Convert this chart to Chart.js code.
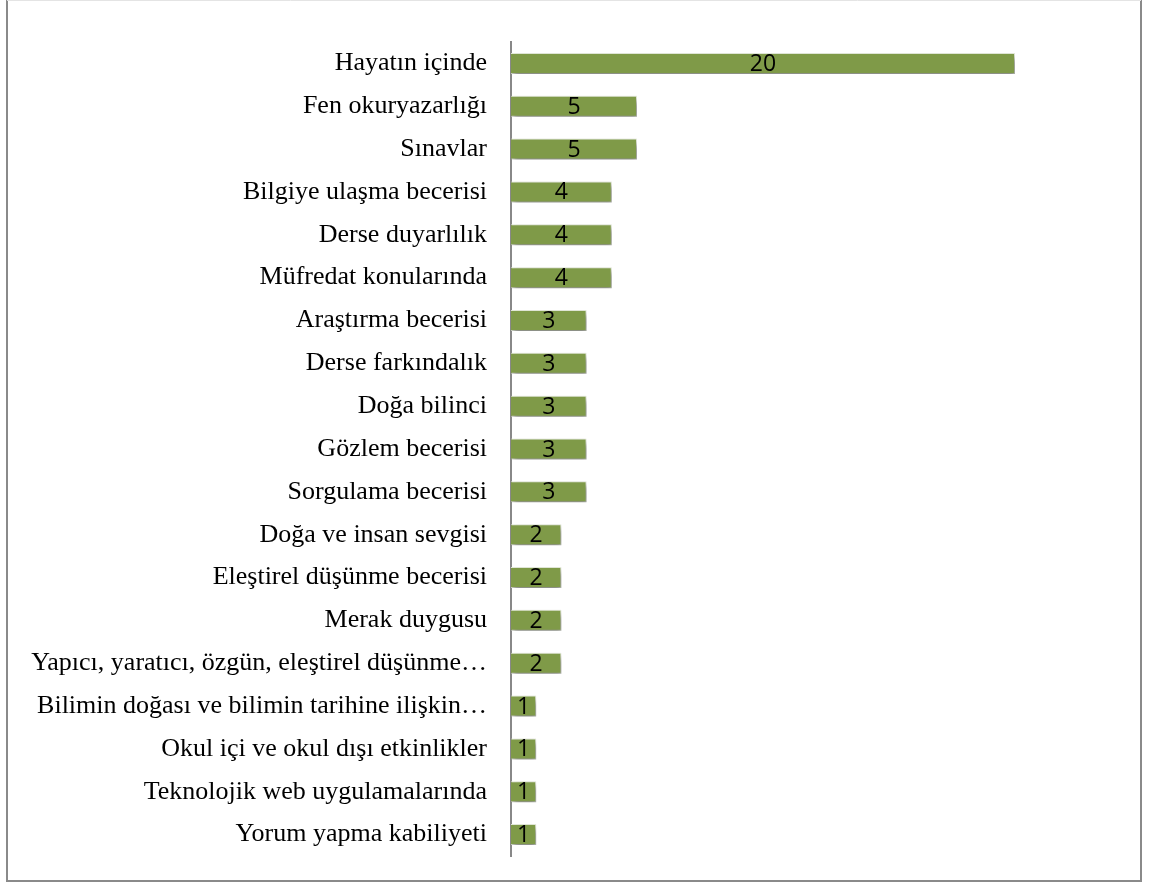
<!DOCTYPE html>
<html>
<head>
  <title>Bar chart</title>
  <script src="https://cdn.jsdelivr.net/npm/chart.js"></script>
  <style>
    body { margin: 0; background: #fff; }
    #wrap { width: 1149px; height: 883px; position: relative; }
  </style>
</head>
<body>
<div id="wrap"><canvas id="myChart"></canvas></div>

<script>
  const categories = [
    'Hayatın içinde',
    'Fen okuryazarlığı',
    'Sınavlar',
    'Bilgiye ulaşma becerisi',
    'Derse duyarlılık',
    'Müfredat konularında',
    'Araştırma becerisi',
    'Derse farkındalık',
    'Doğa bilinci',
    'Gözlem becerisi',
    'Sorgulama becerisi',
    'Doğa ve insan sevgisi',
    'Eleştirel düşünme becerisi',
    'Merak duygusu',
    'Yapıcı, yaratıcı, özgün, eleştirel düşünme…',
    'Bilimin doğası ve bilimin tarihine ilişkin…',
    'Okul içi ve okul dışı etkinlikler',
    'Teknolojik web uygulamalarında',
    'Yorum yapma kabiliyeti'
  ];
  const counts = [20, 5, 5, 4, 4, 4, 3, 3, 3, 3, 3, 2, 2, 2, 2, 1, 1, 1, 1];

  // white background + grey frame round the whole chart
  const framePlugin = {
    id: 'frame',
    beforeDraw(chart) {
      const ctx = chart.ctx;
      ctx.save();
      ctx.fillStyle = '#fff';
      ctx.fillRect(0, 0, chart.width, chart.height);
      ctx.strokeStyle = '#8a8a8a';
      ctx.lineWidth = 2;
      ctx.beginPath();
      ctx.moveTo(7, 0);
      ctx.lineTo(7, 881);
      ctx.lineTo(1141, 881);
      ctx.lineTo(1141, 0);
      ctx.stroke();
      ctx.strokeStyle = '#e4e4e4';
      ctx.lineWidth = 1;
      ctx.beginPath();
      ctx.moveTo(7, 0.5);
      ctx.lineTo(1141, 0.5);
      ctx.stroke();
      ctx.restore();
    }
  };

  // soft drop shadow under the bars
  const shadowPlugin = {
    id: 'barShadow',
    beforeDatasetsDraw(chart) {
      const ctx = chart.ctx;
      ctx.save();
      ctx.shadowColor = 'rgba(0,0,0,0.45)';
      ctx.shadowBlur = 6;
      ctx.shadowOffsetX = 2;
      ctx.shadowOffsetY = 4;
    },
    afterDatasetsDraw(chart) {
      chart.ctx.restore();
    }
  };

  // value written in the middle of each bar
  const valuePlugin = {
    id: 'values',
    afterDatasetsDraw(chart) {
      const ctx = chart.ctx;
      const meta = chart.getDatasetMeta(0);
      ctx.save();
      ctx.font = '23px "Open Sans", sans-serif';
      ctx.fillStyle = '#000';
      ctx.textAlign = 'center';
      ctx.textBaseline = 'middle';
      meta.data.forEach((bar, i) => {
        const p = bar.getProps(['x', 'y', 'base'], true);
        ctx.fillText(String(counts[i]), (p.x + p.base) / 2, p.y + 1);
      });
      ctx.restore();
    }
  };

  new Chart(document.getElementById('myChart'), {
    type: 'bar',
    data: {
      labels: categories,
      datasets: [{
        data: counts,
        backgroundColor: '#7f9a48',
        borderColor: 'rgba(230,236,218,0.95)',
        borderWidth: 1,
        borderSkipped: 'start',
        barPercentage: 0.49,
        categoryPercentage: 1
      }]
    },
    options: {
      indexAxis: 'y',
      responsive: true,
      maintainAspectRatio: false,
      animation: false,
      layout: { padding: { top: 42, bottom: 27, left: 0, right: 134 } },
      plugins: {
        legend: { display: false },
        tooltip: { enabled: false }
      },
      scales: {
        x: {
          display: false,
          min: 0,
          max: 20
        },
        y: {
          afterFit(scale) {
            scale.width = 511;
            scale.paddingTop = 0;
            scale.paddingBottom = 0;
          },
          grid: { display: false, drawTicks: false },
          border: { display: true, color: '#888', width: 2 },
          ticks: {
            padding: 24,
            color: '#000',
            font: { family: '"Liberation Serif", "Times New Roman", serif', size: 26 }
          }
        }
      }
    },
    plugins: [framePlugin, shadowPlugin, valuePlugin]
  });
</script>
</body>
</html>
